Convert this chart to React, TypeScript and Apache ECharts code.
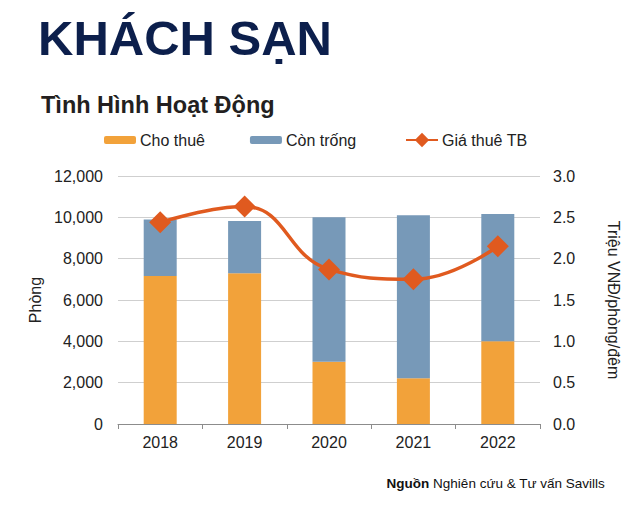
import React, { useEffect, useRef } from "react";
import * as echarts from "echarts";

const years = ["2018", "2019", "2020", "2021", "2022"];
// rooms
const rented = [7160, 7290, 3010, 2210, 4010];
const vacant = [2740, 2530, 6990, 7890, 6150];
// million VND / room / night
const avgRate = [2.44, 2.63, 1.87, 1.75, 2.15];

const ORANGE = "#F2A23A";
const BLUE = "#7799B8";
const LINE = "#E05A1F";
const FONT = "Liberation Sans, Arial, sans-serif";

export default function App() {
  const chartRef = useRef<HTMLDivElement>(null);

  useEffect(() => {
    if (!chartRef.current) return;
    const chart = echarts.init(chartRef.current, undefined, { renderer: "svg" });

    const option = {
      animation: false,
      textStyle: { fontFamily: FONT },
      graphic: [
        {
          type: "text",
          left: 38,
          top: 13,
          style: {
            text: "KHÁCH SẠN",
            font: `bold 49px ${FONT}`,
            fill: "#0C1F4C",
          },
        },
        {
          type: "text",
          left: 41,
          top: 93,
          style: {
            text: "Tình Hình Hoạt Động",
            font: `bold 23.5px ${FONT}`,
            fill: "#231F20",
          },
        },
        {
          type: "text",
          right: 27,
          top: 476,
          style: {
            text: "{b|Nguồn} Nghiên cứu & Tư vấn Savills",
            font: `13.5px ${FONT}`,
            fill: "#111",
            rich: {
              b: { fontWeight: "bold", fontSize: 13.5, fontFamily: FONT, fill: "#111" },
            },
          },
        },
      ],
      legend: [
        {
          data: ["Cho thuê", "Còn trống"],
          left: 99,
          top: 127,
          itemWidth: 32,
          itemHeight: 8,
          itemGap: 45,
          textStyle: { fontSize: 16, color: "#222", padding: [0, 0, 0, -1] },
        },
        {
          data: ["Giá thuê TB"],
          left: 400,
          top: 127,
          itemWidth: 32,
          itemHeight: 18,
          textStyle: { fontSize: 16, color: "#222", padding: [0, 0, 0, -1] },
        },
      ],
      grid: { left: 118, right: 92, top: 176, bottom: 90 },
      xAxis: {
        type: "category",
        data: years,
        axisLine: { lineStyle: { color: "#8c8c8c", width: 1 } },
        axisTick: { show: true, length: 5, lineStyle: { color: "#8c8c8c" } },
        axisLabel: { fontSize: 16, color: "#222", margin: 10 },
      },
      yAxis: [
        {
          type: "value",
          min: 0,
          max: 12000,
          interval: 2000,
          name: "Phòng",
          nameLocation: "middle",
          nameGap: 74,
          nameTextStyle: { fontSize: 16, color: "#222" },
          axisLine: { show: false },
          axisTick: { show: false },
          axisLabel: {
            fontSize: 16,
            color: "#222",
            margin: 15,
            formatter: (v: number) => v.toLocaleString("en-US"),
          },
          splitLine: { lineStyle: { color: "#cfcfcf", width: 1 } },
        },
        {
          type: "value",
          min: 0,
          max: 3,
          interval: 0.5,
          name: "Triệu VNĐ/phòng/đêm",
          nameLocation: "middle",
          nameGap: 65,
          nameRotate: -90,
          nameTextStyle: { fontSize: 16, color: "#222" },
          axisLine: { show: false },
          axisTick: { show: false },
          axisLabel: {
            fontSize: 16,
            color: "#222",
            margin: 13,
            formatter: (v: number) => v.toFixed(1),
          },
          splitLine: { show: false },
        },
      ],
      series: [
        {
          name: "Cho thuê",
          type: "bar",
          stack: "rooms",
          data: rented,
          barWidth: 33,
          itemStyle: { color: ORANGE },
        },
        {
          name: "Còn trống",
          type: "bar",
          stack: "rooms",
          data: vacant,
          barWidth: 33,
          itemStyle: { color: BLUE },
        },
        {
          name: "Giá thuê TB",
          type: "line",
          yAxisIndex: 1,
          data: avgRate,
          smooth: 0.45,
          symbol: "diamond",
          symbolSize: 22,
          lineStyle: { color: LINE, width: 3.5 },
          itemStyle: { color: LINE },
          z: 5,
        },
      ],
    };

    chart.setOption(option);
    return () => {
      chart.dispose();
    };
  }, []);

  return (
    <div
      ref={chartRef}
      style={{ position: "fixed", left: 0, top: 0, width: 632, height: 514, background: "#fff" }}
    />
  );
}
